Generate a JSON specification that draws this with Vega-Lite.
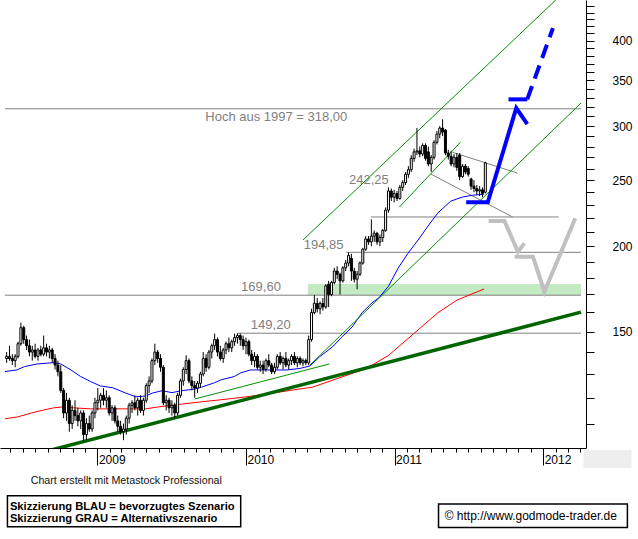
{
  "$schema": "https://vega.github.io/schema/vega-lite/v6.json",
  "width": 586,
  "height": 448,
  "autosize": {"type": "none"},
  "padding": {"left": 0, "top": 0, "right": 52, "bottom": 91},
  "background": "white",
  "config": {"view": {"stroke": null}, "font": "Liberation Sans"},
  "resolve": {"axis": {"x": "independent", "y": "independent"}},
  "datasets": {
    "candles": [
      {"d":"2008-05-23","o":137,"h":140,"l":135,"c":138},{"d":"2008-05-30","o":138,"h":143,"l":136,"c":137},
      {"d":"2008-06-06","o":137,"h":139,"l":134,"c":136},{"d":"2008-06-13","o":136,"h":139,"l":133,"c":138},
      {"d":"2008-06-20","o":138,"h":145,"l":137,"c":144},{"d":"2008-06-27","o":144,"h":154.6,"l":143,"c":152},
      {"d":"2008-07-04","o":152,"h":153,"l":144,"c":146},{"d":"2008-07-11","o":146,"h":148,"l":141,"c":143},
      {"d":"2008-07-18","o":143,"h":146,"l":138,"c":140},{"d":"2008-07-25","o":140,"h":143,"l":136,"c":141},
      {"d":"2008-08-01","o":141,"h":144,"l":137,"c":138},{"d":"2008-08-08","o":138,"h":142,"l":136,"c":141},
      {"d":"2008-08-15","o":141,"h":143,"l":138,"c":139},{"d":"2008-08-22","o":139,"h":148,"l":138,"c":142},
      {"d":"2008-08-29","o":142,"h":144,"l":138,"c":140},{"d":"2008-09-05","o":140,"h":143,"l":137,"c":141},
      {"d":"2008-09-12","o":141,"h":142,"l":135,"c":137},{"d":"2008-09-19","o":137,"h":139,"l":132,"c":134},
      {"d":"2008-09-26","o":134,"h":136,"l":129,"c":131},{"d":"2008-10-03","o":131,"h":134,"l":122,"c":123},
      {"d":"2008-10-10","o":123,"h":124,"l":112,"c":114},{"d":"2008-10-17","o":114,"h":122,"l":111,"c":119},
      {"d":"2008-10-24","o":119,"h":120,"l":107,"c":110},{"d":"2008-10-31","o":110,"h":117,"l":108,"c":115},
      {"d":"2008-11-07","o":115,"h":119,"l":111,"c":113},{"d":"2008-11-14","o":113,"h":116,"l":109,"c":111},
      {"d":"2008-11-21","o":111,"h":115,"l":108,"c":114},{"d":"2008-11-28","o":114,"h":115,"l":103.5,"c":106},
      {"d":"2008-12-05","o":106,"h":112,"l":104,"c":110},{"d":"2008-12-12","o":110,"h":113,"l":107,"c":108},
      {"d":"2008-12-19","o":108,"h":115,"l":107,"c":114},{"d":"2008-12-26","o":114,"h":120,"l":112,"c":118},
      {"d":"2009-01-02","o":118,"h":124,"l":115,"c":119},{"d":"2009-01-09","o":119,"h":122,"l":116,"c":121},
      {"d":"2009-01-16","o":121,"h":124,"l":117,"c":119},{"d":"2009-01-23","o":119,"h":123,"l":116,"c":120},
      {"d":"2009-01-30","o":120,"h":121,"l":113,"c":114},{"d":"2009-02-06","o":114,"h":117,"l":111,"c":116},
      {"d":"2009-02-13","o":116,"h":117,"l":110,"c":111},{"d":"2009-02-20","o":111,"h":113,"l":107,"c":109},
      {"d":"2009-02-27","o":109,"h":111,"l":106,"c":107},{"d":"2009-03-06","o":107,"h":110,"l":104,"c":108},
      {"d":"2009-03-13","o":108,"h":113,"l":106,"c":112},{"d":"2009-03-20","o":112,"h":118,"l":110,"c":117},
      {"d":"2009-03-27","o":117,"h":119,"l":114,"c":118},{"d":"2009-04-03","o":118,"h":121,"l":115,"c":116},
      {"d":"2009-04-10","o":116,"h":120,"l":113,"c":119},{"d":"2009-04-17","o":119,"h":121,"l":114,"c":115},
      {"d":"2009-04-24","o":115,"h":120,"l":113,"c":119},{"d":"2009-05-01","o":119,"h":126,"l":118,"c":125},
      {"d":"2009-05-08","o":125,"h":129,"l":122,"c":127},{"d":"2009-05-15","o":127,"h":137,"l":126,"c":136},
      {"d":"2009-05-22","o":136,"h":144,"l":134,"c":140},{"d":"2009-05-29","o":140,"h":141,"l":135,"c":137},
      {"d":"2009-06-05","o":137,"h":139,"l":131,"c":133},{"d":"2009-06-12","o":133,"h":134,"l":117,"c":118},
      {"d":"2009-06-19","o":118,"h":121,"l":115,"c":119},{"d":"2009-06-26","o":119,"h":120,"l":114,"c":116},
      {"d":"2009-07-03","o":116,"h":119,"l":113,"c":117},{"d":"2009-07-10","o":117,"h":118,"l":112,"c":114},
      {"d":"2009-07-17","o":114,"h":122,"l":113,"c":121},{"d":"2009-07-24","o":121,"h":128,"l":120,"c":127},
      {"d":"2009-07-31","o":127,"h":133,"l":125,"c":132},{"d":"2009-08-07","o":132,"h":138.5,"l":130,"c":136},
      {"d":"2009-08-14","o":136,"h":137,"l":126,"c":127},{"d":"2009-08-21","o":127,"h":129,"l":123,"c":125},
      {"d":"2009-08-28","o":125,"h":127,"l":120,"c":124},{"d":"2009-09-04","o":124,"h":127,"l":122,"c":126},
      {"d":"2009-09-11","o":126,"h":131,"l":124,"c":130},{"d":"2009-09-18","o":130,"h":140,"l":129,"c":137},
      {"d":"2009-09-25","o":137,"h":139,"l":131,"c":133},{"d":"2009-10-02","o":133,"h":141,"l":132,"c":140},
      {"d":"2009-10-09","o":140,"h":144,"l":137,"c":143},{"d":"2009-10-16","o":143,"h":149,"l":141,"c":146},
      {"d":"2009-10-23","o":146,"h":147,"l":138,"c":140},{"d":"2009-10-30","o":140,"h":143,"l":136,"c":137},
      {"d":"2009-11-06","o":137,"h":142,"l":135,"c":141},{"d":"2009-11-13","o":141,"h":145,"l":139,"c":144},
      {"d":"2009-11-20","o":144,"h":147,"l":140,"c":142},{"d":"2009-11-27","o":142,"h":146,"l":140,"c":145},
      {"d":"2009-12-04","o":145,"h":149,"l":143,"c":147},{"d":"2009-12-11","o":147,"h":149.2,"l":144,"c":148},
      {"d":"2009-12-18","o":148,"h":149,"l":143,"c":146},{"d":"2009-12-25","o":146,"h":148,"l":141,"c":143},
      {"d":"2010-01-01","o":143,"h":147,"l":139,"c":145},{"d":"2010-01-08","o":145,"h":146,"l":138,"c":139},
      {"d":"2010-01-15","o":139,"h":141,"l":134,"c":136},{"d":"2010-01-22","o":136,"h":140,"l":133,"c":138},
      {"d":"2010-01-29","o":138,"h":139,"l":132,"c":133},{"d":"2010-02-05","o":133,"h":136,"l":131,"c":134},
      {"d":"2010-02-12","o":134,"h":136,"l":130,"c":132},{"d":"2010-02-19","o":132,"h":137,"l":131,"c":136},
      {"d":"2010-02-26","o":136,"h":139,"l":133,"c":134},{"d":"2010-03-05","o":134,"h":135,"l":130,"c":131},
      {"d":"2010-03-12","o":131,"h":135,"l":130,"c":133},{"d":"2010-03-19","o":133,"h":139,"l":132,"c":138},
      {"d":"2010-03-26","o":138,"h":140,"l":134,"c":135},{"d":"2010-04-02","o":135,"h":138,"l":132,"c":137},
      {"d":"2010-04-09","o":137,"h":140,"l":133,"c":134},{"d":"2010-04-16","o":134,"h":137,"l":132,"c":136},
      {"d":"2010-04-23","o":136,"h":139,"l":134,"c":138},{"d":"2010-04-30","o":138,"h":140,"l":134,"c":135},
      {"d":"2010-05-07","o":135,"h":138,"l":133,"c":137},{"d":"2010-05-14","o":137,"h":138,"l":134,"c":135},
      {"d":"2010-05-21","o":135,"h":137,"l":133.5,"c":136},{"d":"2010-05-28","o":136,"h":137,"l":134,"c":135},
      {"d":"2010-06-04","o":135,"h":148,"l":134,"c":146},{"d":"2010-06-11","o":146,"h":162,"l":145,"c":160},
      {"d":"2010-06-18","o":160,"h":169.6,"l":159,"c":165},{"d":"2010-06-25","o":165,"h":168,"l":160,"c":162},
      {"d":"2010-07-02","o":162,"h":166,"l":159,"c":165},{"d":"2010-07-09","o":165,"h":168,"l":161,"c":163},
      {"d":"2010-07-16","o":163,"h":176,"l":162,"c":175},{"d":"2010-07-23","o":176,"h":178,"l":163,"c":170},
      {"d":"2010-07-30","o":170,"h":178,"l":169,"c":177},{"d":"2010-08-06","o":177,"h":186,"l":176,"c":184},
      {"d":"2010-08-13","o":184,"h":187,"l":179,"c":182},{"d":"2010-08-20","o":182,"h":183,"l":170,"c":178},
      {"d":"2010-08-27","o":178,"h":187,"l":177,"c":186},{"d":"2010-09-03","o":186,"h":191,"l":184,"c":189},
      {"d":"2010-09-10","o":189,"h":196,"l":187,"c":194},{"d":"2010-09-17","o":192,"h":195,"l":178,"c":184},
      {"d":"2010-09-24","o":184,"h":186,"l":177,"c":179},{"d":"2010-10-01","o":179,"h":184,"l":173,"c":182},
      {"d":"2010-10-08","o":182,"h":190,"l":181,"c":189},{"d":"2010-10-15","o":189,"h":199,"l":188,"c":198},
      {"d":"2010-10-22","o":198,"h":207,"l":197,"c":205},{"d":"2010-10-29","o":205,"h":207,"l":201,"c":203},
      {"d":"2010-11-05","o":203,"h":219,"l":200,"c":207},{"d":"2010-11-12","o":207,"h":211,"l":203,"c":209},
      {"d":"2010-11-19","o":209,"h":210,"l":201,"c":203},{"d":"2010-11-26","o":203,"h":208,"l":200,"c":206},
      {"d":"2010-12-03","o":206,"h":212,"l":203,"c":211},{"d":"2010-12-10","o":211,"h":228,"l":210,"c":226},
      {"d":"2010-12-17","o":226,"h":244,"l":224,"c":241},{"d":"2010-12-24","o":241,"h":243,"l":233,"c":236},
      {"d":"2010-12-31","o":236,"h":242,"l":232,"c":239},{"d":"2011-01-07","o":239,"h":241,"l":233,"c":235},
      {"d":"2011-01-14","o":235,"h":246,"l":234,"c":244},{"d":"2011-01-21","o":244,"h":250,"l":241,"c":248},
      {"d":"2011-01-28","o":248,"h":257,"l":246,"c":255},{"d":"2011-02-04","o":255,"h":262,"l":252,"c":259},
      {"d":"2011-02-11","o":259,"h":272,"l":257,"c":269},{"d":"2011-02-18","o":269,"h":278,"l":266,"c":275},
      {"d":"2011-02-25","o":275,"h":298,"l":272,"c":276},{"d":"2011-03-04","o":276,"h":280,"l":270,"c":273},
      {"d":"2011-03-11","o":273,"h":283,"l":271,"c":281},{"d":"2011-03-18","o":281,"h":283,"l":267,"c":269},
      {"d":"2011-03-25","o":275,"h":280,"l":262,"c":264},{"d":"2011-04-01","o":264,"h":272,"l":257,"c":270},
      {"d":"2011-04-08","o":270,"h":286,"l":268,"c":284},{"d":"2011-04-15","o":284,"h":295,"l":282,"c":292},
      {"d":"2011-04-22","o":292,"h":300,"l":288,"c":298},{"d":"2011-04-29","o":298,"h":307,"l":290,"c":294},
      {"d":"2011-05-06","o":296,"h":297,"l":272,"c":274},{"d":"2011-05-13","o":274,"h":277,"l":268,"c":271},
      {"d":"2011-05-20","o":271,"h":276,"l":262,"c":264},{"d":"2011-05-27","o":264,"h":273,"l":261,"c":270},
      {"d":"2011-06-03","o":270,"h":274,"l":258,"c":261},{"d":"2011-06-10","o":272,"h":274,"l":250,"c":253},
      {"d":"2011-06-17","o":253,"h":264,"l":252,"c":262},{"d":"2011-06-24","o":262,"h":264,"l":255,"c":257},
      {"d":"2011-07-01","o":260,"h":262,"l":253,"c":255},{"d":"2011-07-08","o":251,"h":252,"l":242,"c":245},
      {"d":"2011-07-15","o":245,"h":250,"l":240,"c":243},{"d":"2011-07-22","o":243,"h":246,"l":238,"c":241},
      {"d":"2011-07-29","o":241,"h":245,"l":237,"c":242},{"d":"2011-08-05","o":242,"h":244,"l":236,"c":239},
      {"d":"2011-08-12","o":240,"h":266,"l":239,"c":265}
    ],
    "blueMA": [
      {"d":"2008-05-19","p":131.1},{"d":"2008-06-17","p":131.8},{"d":"2008-07-06","p":133.3},{"d":"2008-08-06","p":134.5},
      {"d":"2008-09-16","p":135.1},{"d":"2008-10-03","p":134.5},{"d":"2008-10-28","p":131.8},{"d":"2008-11-21","p":128.9},
      {"d":"2008-12-15","p":126.8},{"d":"2009-01-08","p":124.9},{"d":"2009-02-08","p":124.1},{"d":"2009-03-12","p":121.9},
      {"d":"2009-04-05","p":120.4},{"d":"2009-04-29","p":120.7},{"d":"2009-05-16","p":121.9},{"d":"2009-06-09","p":122.9},
      {"d":"2009-07-03","p":122.1},{"d":"2009-07-27","p":122.9},{"d":"2009-08-28","p":123.6},{"d":"2009-09-14","p":124.4},
      {"d":"2009-10-15","p":126.2},{"d":"2009-11-01","p":127.5},{"d":"2009-12-03","p":128.9},{"d":"2009-12-19","p":130.5},
      {"d":"2010-01-12","p":131.8},{"d":"2010-02-23","p":131.8},{"d":"2010-04-12","p":131.8},{"d":"2010-05-14","p":132.5},
      {"d":"2010-06-07","p":133.6},{"d":"2010-07-01","p":137.8},{"d":"2010-08-01","p":142.4},{"d":"2010-08-25","p":147.4},
      {"d":"2010-09-19","p":152.4},{"d":"2010-10-13","p":159.8},{"d":"2010-11-06","p":165.2},{"d":"2010-11-23","p":168.0},
      {"d":"2010-12-17","p":174.8},{"d":"2011-01-10","p":185.9},{"d":"2011-02-03","p":195.4},{"d":"2011-02-28","p":204.3},
      {"d":"2011-03-24","p":214.1},{"d":"2011-04-17","p":223.7},{"d":"2011-05-19","p":232.9},{"d":"2011-06-16","p":236.1},
      {"d":"2011-07-11","p":237.6},{"d":"2011-08-09","p":238.4}
    ],
    "redMA": [
      {"d":"2008-05-19","p":111.8},{"d":"2008-06-19","p":112.5},{"d":"2008-07-23","p":114.0},{"d":"2008-08-23","p":115.2},
      {"d":"2008-09-16","p":116.0},{"d":"2008-10-10","p":116.4},{"d":"2008-11-03","p":116.0},{"d":"2008-12-15","p":115.6},
      {"d":"2009-01-15","p":115.6},{"d":"2009-03-04","p":115.6},{"d":"2009-04-29","p":115.6},{"d":"2009-06-02","p":116.4},
      {"d":"2009-07-03","p":117.0},{"d":"2009-08-04","p":117.6},{"d":"2009-09-14","p":118.4},{"d":"2009-10-20","p":119.0},
      {"d":"2009-12-03","p":119.8},{"d":"2010-01-12","p":120.6},{"d":"2010-02-23","p":121.6},{"d":"2010-04-27","p":123.2},
      {"d":"2010-06-14","p":124.4},{"d":"2010-08-11","p":127.9},{"d":"2010-10-22","p":132.3},{"d":"2010-12-17","p":138.4},
      {"d":"2011-02-28","p":150.9},{"d":"2011-04-17","p":159.8},{"d":"2011-06-04","p":166.9},{"d":"2011-08-09","p":173.2}
    ],
    "band": [{"d":"2010-06-02","d2":"2012-04-03","p":169.6,"p2":176.1}],
    "grayLines": [
      {"g":"h318","d":"2008-05-19","p":318},{"g":"h318","d":"2012-04-03","p":318},
      {"g":"h170","d":"2008-05-19","p":169.6},{"g":"h170","d":"2012-04-03","p":169.6},
      {"g":"h149","d":"2009-12-12","p":149.2},{"g":"h149","d":"2012-04-03","p":149.2},
      {"g":"h196","d":"2010-09-04","p":196},{"g":"h196","d":"2012-04-03","p":196},
      {"g":"h221","d":"2010-11-04","p":220.8},{"g":"h221","d":"2012-02-08","p":220.8},
      {"g":"wu","d":"2011-05-23","p":274.7},{"g":"wu","d":"2011-10-30","p":256.0},
      {"g":"wl","d":"2011-03-31","p":255.2},{"g":"wl","d":"2011-10-18","p":220.8}
    ],
    "greenThin": [
      {"g":"u","d":"2010-05-21","p":204.3},{"g":"u","d":"2012-02-01","p":459},
      {"g":"m","d":"2011-01-13","p":228.3},{"g":"m","d":"2011-06-12","p":284.2},
      {"g":"l","d":"2010-06-07","p":134.0},{"g":"l","d":"2012-04-03","p":324.2},
      {"g":"s","d":"2009-08-28","p":119.5},{"g":"s","d":"2010-07-25","p":134.5}
    ],
    "greenThick": [{"d":"2008-09-09","p":100.6},{"d":"2012-04-03","p":160.2}],
    "blueSolid": [
      {"g":"b1","d":"2011-06-26","p":232.0},{"g":"b1","d":"2011-08-18","p":232.0},{"g":"b1","d":"2011-10-27","p":318.8},{"g":"b1","d":"2011-11-23","p":302.0},
      {"g":"b2","d":"2011-10-08","p":328.3},{"g":"b2","d":"2011-11-23","p":328.3}
    ],
    "blueDash": [{"d":"2011-11-23","p":328.3},{"d":"2012-01-25","p":417.5}],
    "grayScen": [
      {"g":"a","d":"2011-08-20","p":217.8},{"g":"a","d":"2011-09-28","p":217.8},{"g":"a","d":"2011-10-31","p":196.4},{"g":"a","d":"2011-11-16","p":202.0},
      {"g":"b","d":"2011-10-23","p":193.1},{"g":"b","d":"2011-12-07","p":193.1},{"g":"b","d":"2012-01-04","p":171.6},{"g":"b","d":"2012-03-20","p":219.8}
    ],
    "levelLabels": [
      {"d":"2009-09-23","p":309.3,"t":"Hoch aus 1997 = 318,00"},
      {"d":"2010-09-11","p":250.1,"t":"242,25"},
      {"d":"2010-05-23","p":200.9,"t":"194,85"},
      {"d":"2009-12-20","p":174.4,"t":"169,60"},
      {"d":"2010-01-13","p":153.4,"t":"149,20"}
    ],
    "boxes": [
      {"d":"2008-05-25","d2":"2009-12-19","p":86.2,"p2":77.7},
      {"d":"2011-04-19","d2":"2012-07-26","p":83.9,"p2":77.5}
    ],
    "corner": [{"d":"2012-04-09","d2":"2012-08-05","p":100.6,"p2":94.7}],
    "credit": [{"d":"2009-03-13","p":90.6,"t":"Chart erstellt mit Metastock Professional"}],
    "boxText": [
      {"d":"2008-05-31","p":83.1,"t":"Skizzierung BLAU = bevorzugtes Szenario"},
      {"d":"2008-05-31","p":79.8,"t":"Skizzierung GRAU = Alternativszenario"}
    ],
    "site": [{"d":"2011-05-04","p":80.5,"t":"© http://www.godmode-trader.de"}]
  },
  "layer": [
    {
      "data": {"name": "corner"},
      "mark": {"type": "rect", "fill": "#eeeeee"},
      "encoding": {
        "x": {"field": "d", "type": "temporal", "scale": {"domain": [{"year":2008,"month":5,"date":19},{"year":2012,"month":4,"date":3}], "nice": false},
              "axis": {"orient": "bottom", "tickCount": {"interval": "month", "step": 1}, "labels": false, "tickSize": 4, "domainColor": "#000000", "tickColor": "#000000", "title": null, "grid": false}},
        "x2": {"field": "d2"},
        "y": {"field": "p", "type": "quantitative", "scale": {"type": "log", "domain": [101.3, 459], "nice": false},
              "axis": {"orient": "right", "values": [110,120,130,140,150,160,170,180,190,200,210,220,230,240,250,260,270,280,290,300,310,320,330,340,350,360,370,380,390,400,410,420,430,440,450],
                       "labelExpr": "datum.value % 50 === 0 && datum.value <= 400 ? format(datum.value, 'd') : ''", "tickSize": 8, "labelPadding": 18, "labelFontSize": 12, "labelColor": "#000000",
                       "domainColor": "#000000", "tickColor": "#000000", "title": null, "grid": false, "labelOverlap": false, "labelFont": "Liberation Sans"}},
        "y2": {"field": "p2"}
      }
    },
    {
      "data": {"name": "band"},
      "mark": {"type": "rect", "fill": "#c4eac4"},
      "encoding": {
        "x": {"field": "d", "type": "temporal", "scale": {"domain": [{"year":2008,"month":5,"date":19},{"year":2012,"month":4,"date":3}], "nice": false},
              "axis": {"orient": "bottom", "tickCount": {"interval": "year", "step": 1}, "format": "%Y", "tickSize": 17, "labelAlign": "left", "labelBaseline": "top", "labelPadding": -11, "labelOffset": 1,
                       "labelFontSize": 12, "labelColor": "#000000", "domain": false, "tickColor": "#000000", "title": null, "grid": false, "labelOverlap": false, "labelFlush": false, "labelFont": "Liberation Sans"}},
        "x2": {"field": "d2"},
        "y": {"field": "p", "type": "quantitative", "scale": {"type": "log", "domain": [101.3, 459], "nice": false}, "axis": null},
        "y2": {"field": "p2"}
      }
    },
    {
      "data": {"name": "grayLines"},
      "mark": {"type": "line", "stroke": "#808080", "strokeWidth": 1},
      "encoding": {
        "x": {"field": "d", "type": "temporal", "scale": {"domain": [{"year":2008,"month":5,"date":19},{"year":2012,"month":4,"date":3}], "nice": false}, "axis": null},
        "y": {"field": "p", "type": "quantitative", "scale": {"type": "log", "domain": [101.3, 459], "nice": false}, "axis": null},
        "detail": {"field": "g"}
      }
    },
    {
      "data": {"name": "redMA"},
      "mark": {"type": "line", "stroke": "#ff0000", "strokeWidth": 1},
      "encoding": {
        "x": {"field": "d", "type": "temporal", "scale": {"domain": [{"year":2008,"month":5,"date":19},{"year":2012,"month":4,"date":3}], "nice": false}, "axis": null},
        "y": {"field": "p", "type": "quantitative", "scale": {"type": "log", "domain": [101.3, 459], "nice": false}, "axis": null}
      }
    },
    {
      "data": {"name": "blueMA"},
      "mark": {"type": "line", "stroke": "#0000ff", "strokeWidth": 1},
      "encoding": {
        "x": {"field": "d", "type": "temporal", "scale": {"domain": [{"year":2008,"month":5,"date":19},{"year":2012,"month":4,"date":3}], "nice": false}, "axis": null},
        "y": {"field": "p", "type": "quantitative", "scale": {"type": "log", "domain": [101.3, 459], "nice": false}, "axis": null}
      }
    },
    {
      "data": {"name": "greenThin"},
      "mark": {"type": "line", "stroke": "#009000", "strokeWidth": 1, "clip": true},
      "encoding": {
        "x": {"field": "d", "type": "temporal", "scale": {"domain": [{"year":2008,"month":5,"date":19},{"year":2012,"month":4,"date":3}], "nice": false}, "axis": null},
        "y": {"field": "p", "type": "quantitative", "scale": {"type": "log", "domain": [101.3, 459], "nice": false}, "axis": null},
        "detail": {"field": "g"}
      }
    },
    {
      "data": {"name": "greenThick"},
      "mark": {"type": "line", "stroke": "#006400", "strokeWidth": 3.5, "clip": true},
      "encoding": {
        "x": {"field": "d", "type": "temporal", "scale": {"domain": [{"year":2008,"month":5,"date":19},{"year":2012,"month":4,"date":3}], "nice": false}, "axis": null},
        "y": {"field": "p", "type": "quantitative", "scale": {"type": "log", "domain": [101.3, 459], "nice": false}, "axis": null}
      }
    },
    {
      "data": {"name": "candles"},
      "mark": {"type": "rule", "stroke": "#000000", "strokeWidth": 1},
      "encoding": {
        "x": {"field": "d", "type": "temporal", "scale": {"domain": [{"year":2008,"month":5,"date":19},{"year":2012,"month":4,"date":3}], "nice": false}, "axis": null},
        "y": {"field": "l", "type": "quantitative", "scale": {"type": "log", "domain": [101.3, 459], "nice": false}, "axis": null},
        "y2": {"field": "h"}
      }
    },
    {
      "data": {"name": "candles"},
      "mark": {"type": "bar", "width": 2, "stroke": "#000000", "strokeWidth": 1},
      "encoding": {
        "x": {"field": "d", "type": "temporal", "scale": {"domain": [{"year":2008,"month":5,"date":19},{"year":2012,"month":4,"date":3}], "nice": false}, "axis": null},
        "y": {"field": "o", "type": "quantitative", "scale": {"type": "log", "domain": [101.3, 459], "nice": false}, "axis": null},
        "y2": {"field": "c"},
        "fill": {"condition": {"test": "datum.c < datum.o", "value": "#000000"}, "value": "#ffffff"}
      }
    },
    {
      "data": {"name": "grayScen"},
      "mark": {"type": "line", "stroke": "#c0c0c0", "strokeWidth": 4, "strokeJoin": "miter"},
      "encoding": {
        "x": {"field": "d", "type": "temporal", "scale": {"domain": [{"year":2008,"month":5,"date":19},{"year":2012,"month":4,"date":3}], "nice": false}, "axis": null},
        "y": {"field": "p", "type": "quantitative", "scale": {"type": "log", "domain": [101.3, 459], "nice": false}, "axis": null},
        "detail": {"field": "g"}
      }
    },
    {
      "data": {"name": "blueSolid"},
      "mark": {"type": "line", "stroke": "#0000ff", "strokeWidth": 4, "strokeJoin": "miter"},
      "encoding": {
        "x": {"field": "d", "type": "temporal", "scale": {"domain": [{"year":2008,"month":5,"date":19},{"year":2012,"month":4,"date":3}], "nice": false}, "axis": null},
        "y": {"field": "p", "type": "quantitative", "scale": {"type": "log", "domain": [101.3, 459], "nice": false}, "axis": null},
        "detail": {"field": "g"}
      }
    },
    {
      "data": {"name": "blueDash"},
      "mark": {"type": "line", "stroke": "#0000ff", "strokeWidth": 4, "strokeDash": [14, 8]},
      "encoding": {
        "x": {"field": "d", "type": "temporal", "scale": {"domain": [{"year":2008,"month":5,"date":19},{"year":2012,"month":4,"date":3}], "nice": false}, "axis": null},
        "y": {"field": "p", "type": "quantitative", "scale": {"type": "log", "domain": [101.3, 459], "nice": false}, "axis": null}
      }
    },
    {
      "data": {"name": "levelLabels"},
      "mark": {"type": "text", "align": "left", "baseline": "middle", "fontSize": 13, "fill": "#808080", "font": "Liberation Sans"},
      "encoding": {
        "x": {"field": "d", "type": "temporal", "scale": {"domain": [{"year":2008,"month":5,"date":19},{"year":2012,"month":4,"date":3}], "nice": false}, "axis": null},
        "y": {"field": "p", "type": "quantitative", "scale": {"type": "log", "domain": [101.3, 459], "nice": false}, "axis": null},
        "text": {"field": "t"}
      }
    },
    {
      "data": {"name": "boxes"},
      "mark": {"type": "rect", "fill": "#ffffff", "stroke": "#000000", "strokeWidth": 1.5},
      "encoding": {
        "x": {"field": "d", "type": "temporal", "scale": {"domain": [{"year":2008,"month":5,"date":19},{"year":2012,"month":4,"date":3}], "nice": false}, "axis": null},
        "x2": {"field": "d2"},
        "y": {"field": "p", "type": "quantitative", "scale": {"type": "log", "domain": [101.3, 459], "nice": false}, "axis": null},
        "y2": {"field": "p2"}
      }
    },
    {
      "data": {"name": "credit"},
      "mark": {"type": "text", "align": "center", "baseline": "middle", "fontSize": 10.7, "fill": "#111111", "font": "Liberation Sans"},
      "encoding": {
        "x": {"field": "d", "type": "temporal", "scale": {"domain": [{"year":2008,"month":5,"date":19},{"year":2012,"month":4,"date":3}], "nice": false}, "axis": null},
        "y": {"field": "p", "type": "quantitative", "scale": {"type": "log", "domain": [101.3, 459], "nice": false}, "axis": null},
        "text": {"field": "t"}
      }
    },
    {
      "data": {"name": "boxText"},
      "mark": {"type": "text", "align": "left", "baseline": "middle", "fontSize": 11.2, "fontWeight": "bold", "fill": "#000000", "font": "Liberation Sans"},
      "encoding": {
        "x": {"field": "d", "type": "temporal", "scale": {"domain": [{"year":2008,"month":5,"date":19},{"year":2012,"month":4,"date":3}], "nice": false}, "axis": null},
        "y": {"field": "p", "type": "quantitative", "scale": {"type": "log", "domain": [101.3, 459], "nice": false}, "axis": null},
        "text": {"field": "t"}
      }
    },
    {
      "data": {"name": "site"},
      "mark": {"type": "text", "align": "left", "baseline": "middle", "fontSize": 12, "fill": "#000000", "font": "Liberation Sans"},
      "encoding": {
        "x": {"field": "d", "type": "temporal", "scale": {"domain": [{"year":2008,"month":5,"date":19},{"year":2012,"month":4,"date":3}], "nice": false}, "axis": null},
        "y": {"field": "p", "type": "quantitative", "scale": {"type": "log", "domain": [101.3, 459], "nice": false}, "axis": null},
        "text": {"field": "t"}
      }
    }
  ]
}
